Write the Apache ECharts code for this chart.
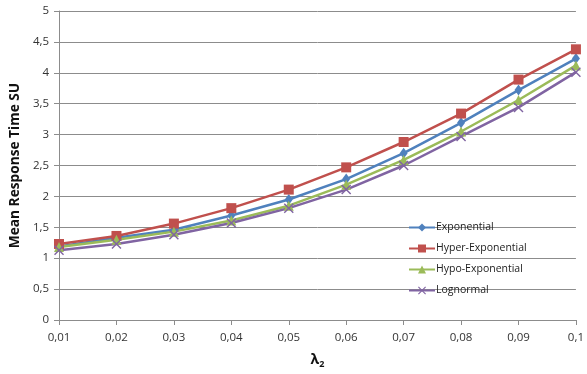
<!DOCTYPE html>
<html>
<head>
<meta charset="utf-8">
<script src="https://cdn.jsdelivr.net/npm/echarts@6/dist/echarts.min.js"></script>
<style>
html,body{margin:0;padding:0;background:#fff;}
#chart{width:587px;height:374px;}
</style>
</head>
<body>
<div id="chart"></div>
<script>
// Arrival rate lambda_2 (category labels on the x axis)
const lambdaLabels = ['0,01','0,02','0,03','0,04','0,05','0,06','0,07','0,08','0,09','0,1'];

// Mean response time per service-time distribution
const exponential      = [1.19, 1.33, 1.46, 1.69, 1.95, 2.28, 2.70, 3.19, 3.72, 4.23];
const hyperExponential = [1.23, 1.36, 1.56, 1.81, 2.11, 2.47, 2.88, 3.34, 3.89, 4.38];
const hypoExponential  = [1.18, 1.30, 1.43, 1.61, 1.85, 2.19, 2.59, 3.05, 3.56, 4.12];
const lognormal        = [1.13, 1.23, 1.38, 1.57, 1.81, 2.11, 2.50, 2.97, 3.44, 4.01];

const seriesNames = ['Exponential', 'Hyper-Exponential', 'Hypo-Exponential', 'Lognormal'];

const FONT = '"Open Sans", "Noto Sans", sans-serif';
const crossPath = 'path://M1,0L5,4L9,0L10,1L6,5L10,9L9,10L5,6L1,10L0,9L4,5L0,1Z';

function makeSeries(name, data, color, symbol, size) {
  return {
    name: name,
    type: 'line',
    data: data,
    symbol: symbol,
    symbolSize: size,
    lineStyle: { color: color, width: 2.5 },
    itemStyle: { color: color },
    emphasis: { disabled: true },
    z: 2
  };
}

const chart = echarts.init(document.getElementById('chart'), null, { renderer: 'canvas' });
chart.setOption({
  animation: false,
  backgroundColor: '#ffffff',
  grid: { left: 57, right: 10, top: 11, bottom: 52, containLabel: false },
  legend: {
    orient: 'vertical',
    left: 403,
    top: 217,
    itemGap: 10,
    itemWidth: 26,
    itemHeight: 10,
    data: seriesNames,
    textStyle: { fontFamily: FONT, fontSize: 10.5, color: '#222', padding: [0, 0, 0, -4] }
  },
  xAxis: {
    type: 'category',
    data: lambdaLabels,
    boundaryGap: false,
    name: '{l|λ}{s|2}',
    nameLocation: 'middle',
    nameGap: 32,
    nameTextStyle: {
      rich: {
        l: { fontFamily: FONT, fontSize: 14, fontWeight: 'bold', color: '#111' },
        s: { fontFamily: FONT, fontSize: 9, fontWeight: 'bold', color: '#111', padding: [8, 0, 0, 0] }
      }
    },
    axisLine: { lineStyle: { color: '#8c8c8c', width: 1 } },
    axisTick: { show: true, alignWithLabel: true, length: 5, lineStyle: { color: '#8c8c8c' } },
    axisLabel: { fontFamily: FONT, fontSize: 11.5, color: '#333', margin: 12 },
    splitLine: { show: false }
  },
  yAxis: {
    type: 'value',
    min: 0,
    max: 5,
    interval: 0.5,
    name: 'Mean Response Time SU',
    nameLocation: 'middle',
    nameGap: 30,
    nameTextStyle: { fontFamily: FONT, fontSize: 13.7, fontWeight: 'bold', color: '#111' },
    axisLine: { show: true, lineStyle: { color: '#8c8c8c', width: 1 } },
    axisTick: { show: true, length: 5, lineStyle: { color: '#8c8c8c' } },
    axisLabel: {
      fontFamily: FONT, fontSize: 11.5, color: '#333', margin: 10,
      formatter: v => String(v).replace('.', ',')
    },
    splitLine: { lineStyle: { color: '#8c8c8c', width: 1 } }
  },
  series: [
    makeSeries(seriesNames[0], exponential, '#4F81BD', 'diamond', [8, 11]),
    makeSeries(seriesNames[1], hyperExponential, '#C0504D', 'rect', 10),
    makeSeries(seriesNames[2], hypoExponential, '#9BBB59', 'triangle', 10),
    makeSeries(seriesNames[3], lognormal, '#8064A2', crossPath, 10)
  ]
});
</script>
</body>
</html>
